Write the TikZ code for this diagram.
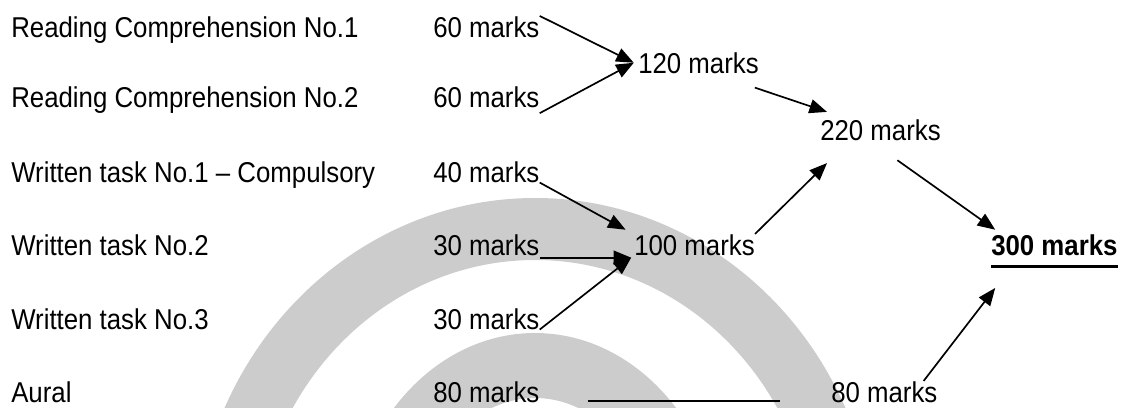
\documentclass[tikz,border=0pt]{standalone}
\usepackage{fontspec}
\setmainfont{Liberation Sans}[FakeStretch=0.9]
\usetikzlibrary{arrows.meta}

\definecolor{wmgrey}{gray}{0.8}
\tikzset{
  lbl/.style={inner sep=0pt, anchor=base west, font=\fontsize{20.4}{24}\selectfont},
  arr/.style={line width=1.2pt, -{Triangle[length=12.5pt,width=10pt]}},
  plain/.style={line width=1.3pt}
}

\begin{document}
\begin{tikzpicture}
  \useasboundingbox (0,0) rectangle (28.05,10.175);
  % watermark arches in the background
  \begin{scope}
    \clip (0,0) rectangle (28.05,10.175);
    \fill[wmgrey,even odd rule] (13.375,-3.825) ellipse [x radius=8.55,y radius=9.05]
                                (13.375,-3.825) ellipse [x radius=7.025,y radius=7.5];
    \fill[wmgrey,even odd rule] (13.375,-3.825) ellipse [x radius=4.75,y radius=5.675]
                                (13.375,-3.825) ellipse [x radius=3.125,y radius=4.05];
  \end{scope}
  % Left-hand column: the parts of the paper
  \node[lbl] (RC1)  at (0.275,9.25)  {Reading Comprehension No.1};
  \node[lbl] (RC2)  at (0.275,7.5)   {Reading Comprehension No.2};
  \node[lbl] (WT1)  at (0.275,5.625) {Written task No.1 -- Compulsory};
  \node[lbl] (WT2)  at (0.275,3.8)   {Written task No.2};
  \node[lbl] (WT3)  at (0.275,1.95)  {Written task No.3};
  \node[lbl] (AUR)  at (0.275,0.125) {Aural};
  % marks of each part
  \node[lbl] (m60a) at (10.825,9.25)  {60 marks};
  \node[lbl] (m60b) at (10.825,7.5)   {60 marks};
  \node[lbl] (m40)  at (10.825,5.625) {40 marks};
  \node[lbl] (m30a) at (10.825,3.8)   {30 marks};
  \node[lbl] (m30b) at (10.825,1.95)  {30 marks};
  \node[lbl] (l80)  at (10.825,0.125) {80 marks};
  % sums
  \node[lbl] (t120) at (15.95,8.35)   {120 marks};
  \node[lbl] (t100) at (15.85,3.8)    {100 marks};
  \node[lbl] (t220) at (20.5,6.675)   {220 marks};
  \node[lbl] (r80)  at (20.775,0.125) {80 marks};
  \node[lbl] (t300) at (24.775,3.8)   {\textbf{300 marks}};
  \draw[line width=2pt] ([yshift=-8pt]t300.south west) -- ([yshift=-8pt]t300.south east);
  % reading
  \draw[arr] (m60a.north east) -- ([xshift=-3pt]t120.west);
  \draw[arr] ([yshift=-4pt]m60b.south east) -- ([xshift=-3pt]t120.west);
  \draw[arr] ([xshift=-3pt,yshift=-10pt]t120.south east) -- ([xshift=5pt,yshift=5pt]t220.north west);
  % writing
  \draw[arr] (m40.south east) -- ([xshift=-6pt,yshift=3pt]t100.north west);
  \draw[arr] ([yshift=-1.5pt]m30a.south east) -- ([xshift=-2pt,yshift=-1.5pt]t100.south west);
  \draw[arr] (m30b.south east) -- ([xshift=-2pt,yshift=-1.5pt]t100.south west);
  \draw[arr] (t100.north east) -- ([xshift=5pt,yshift=-16pt]t220.south west);
  % totals
  \draw[arr] ([xshift=12pt,yshift=-14pt]t220.south) -- ([xshift=3pt,yshift=3pt]t300.north west);
  \draw[plain] ([xshift=34pt,yshift=1pt]l80.south east) -- ([xshift=-36pt,yshift=1pt]r80.south west);
  \draw[arr] ([xshift=-10pt]r80.north east) -- ([xshift=3pt,yshift=-23pt]t300.south west);
\end{tikzpicture}
\end{document}
